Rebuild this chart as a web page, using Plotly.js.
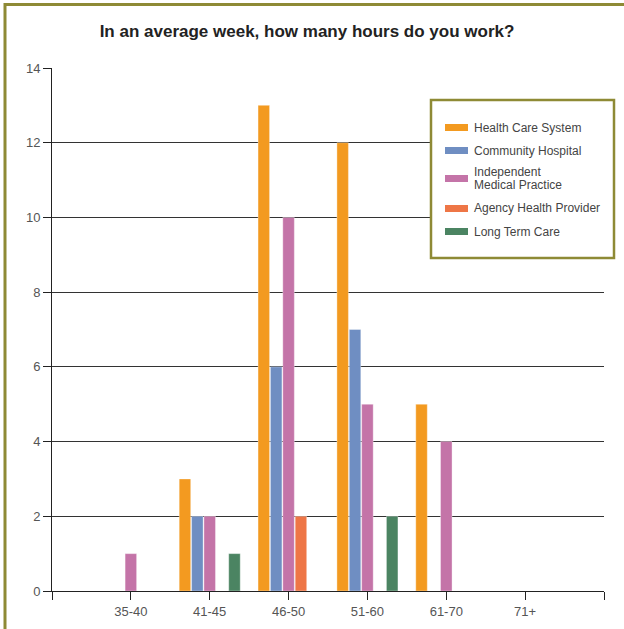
<!DOCTYPE html>
<html>
<head>
<meta charset="utf-8">
<script src="https://cdn.plot.ly/plotly-3.0.1.min.js"></script>
<style>html,body{margin:0;padding:0;background:#fff;}#chart{width:624px;height:629px;}</style>
</head>
<body>
<div id="chart"></div>
<script>
// ---- data ----
var categories = ["35-40", "41-45", "46-50", "51-60", "61-70", "71+"];
var seriesNames = ["Health Care System", "Community Hospital", "Independent<br>Medical Practice", "Agency Health Provider", "Long Term Care"];
var healthCareSystem = [0, 3, 13, 12, 5, 0];
var communityHospital = [0, 2, 6, 7, 0, 0];
var independentPractice = [1, 2, 10, 5, 4, 0];
var agencyProvider = [0, 0, 2, 0, 0, 0];
var longTermCare = [0, 1, 0, 2, 0, 0];
var yTicks = [0, 2, 4, 6, 8, 10, 12, 14];

// ---- styling ----
var colors = ["#F39A20", "#6F8EC2", "#C474A8", "#EE7646", "#4B8462"];
var olive = "#8E8A35";
var allValues = [healthCareSystem, communityHospital, independentPractice, agencyProvider, longTermCare];

// plot area in pixels
var L = 52, R = 604, T = 68, B = 591, W = 624, H = 629;
function px(x) { return (x - L) / (R - L); }
function py(y) { return (B - y) / (B - T); }

var xIdx = categories.map(function (c, i) { return i; });
var traces = allValues.map(function (vals, k) {
  return {
    type: "bar",
    name: seriesNames[k].replace("<br>", " "),
    x: xIdx,
    y: vals,
    marker: { color: colors[k], line: { color: "rgba(255,255,255,0.35)", width: 1 } },
    showlegend: false,
    hoverinfo: "y"
  };
});

var tickvals = [-1].concat(xIdx).concat([categories.length]);
var ticktext = [""].concat(categories).concat([""]);

var shapes = [
  // outer frame (left and top)
  { type: "line", xref: "paper", yref: "paper", x0: px(5), x1: px(5), y0: py(3), y1: py(H + 2), line: { color: olive, width: 3 } },
  { type: "line", xref: "paper", yref: "paper", x0: px(4), x1: px(W + 2), y0: py(4.5), y1: py(4.5), line: { color: olive, width: 3 } },
  // legend box
  { type: "rect", xref: "paper", yref: "paper", x0: px(431), x1: px(614), y0: py(100), y1: py(258), line: { color: olive, width: 2.5 }, fillcolor: "#ffffff", layer: "above" }
];
var annotations = [];
var rowY = [127.5, 150.5, 178.5, 208.5, 231.5];
var lineStep = 13;
seriesNames.forEach(function (name, k) {
  shapes.push({ type: "rect", xref: "paper", yref: "paper", x0: px(445), x1: px(468), y0: py(rowY[k] - 3.5), y1: py(rowY[k] + 3.5), line: { width: 0 }, fillcolor: colors[k], layer: "above" });
  var lines = name.split("<br>");
  lines.forEach(function (ln, j) {
    var yy = rowY[k] + (j - (lines.length - 1) / 2) * lineStep;
    annotations.push({ xref: "paper", yref: "paper", x: px(472), y: py(yy), xanchor: "left", yanchor: "middle", text: ln, showarrow: false, align: "left", font: { family: "Liberation Sans, Arial, sans-serif", size: 12, color: "#444" } });
  });
});

var layout = {
  width: W, height: H,
  margin: { l: L, r: W - R, t: T, b: H - B, pad: 0 },
  paper_bgcolor: "#fff", plot_bgcolor: "#fff",
  title: { text: "In an average week, how many hours do you work?", x: 307 / W, xref: "container", xanchor: "center", y: 1 - 31 / H, yref: "container", yanchor: "middle",
    font: { family: "Liberation Sans, Arial, sans-serif", size: 17, color: "#222", weight: "bold" } },
  barmode: "group", bargap: 0.215, bargroupgap: 0.07,
  xaxis: { type: "linear", range: [-1, categories.length], tickmode: "array", tickvals: tickvals, ticktext: ticktext,
    showgrid: false, zeroline: false, showline: true, linecolor: "#222", linewidth: 1,
    ticks: "outside", ticklen: 8, tickcolor: "#222", tickwidth: 1,
    tickfont: { family: "Liberation Sans, Arial, sans-serif", size: 13, color: "#555" }, fixedrange: true },
  yaxis: { range: [0, 14], tickmode: "array", tickvals: yTicks,
    showgrid: true, gridcolor: "#333", gridwidth: 1, zeroline: false, showline: true, linecolor: "#222", linewidth: 1,
    ticks: "outside", ticklen: 8, tickcolor: "#222", tickwidth: 1,
    tickfont: { family: "Liberation Sans, Arial, sans-serif", size: 13, color: "#555" }, fixedrange: true },
  shapes: shapes,
  annotations: annotations,
  showlegend: false,
  font: { family: "Liberation Sans, Arial, sans-serif" }
};

Plotly.newPlot("chart", traces, layout, { displayModeBar: false, staticPlot: true });
</script>
</body>
</html>
